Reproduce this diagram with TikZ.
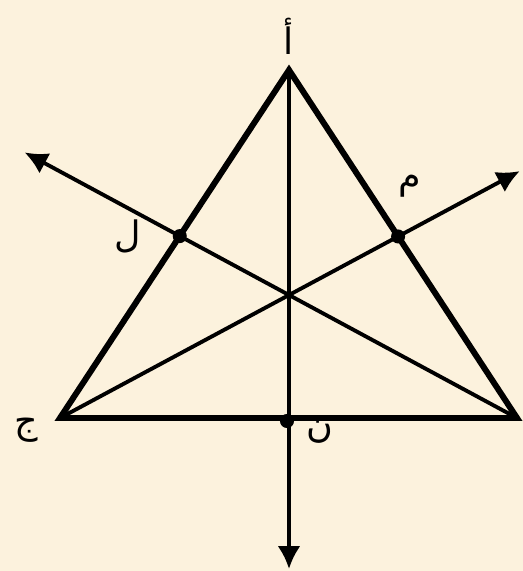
\documentclass[tikz,border=0pt]{standalone}
\usepackage{fontspec}
\usepackage{tikz}
\usetikzlibrary{arrows.meta, calc}
\newfontfamily\arabicfont[Script=Arabic]{DejaVu Sans}
\TeXXeTstate=1
\definecolor{paper}{HTML}{FCF2DD}

\begin{document}
\begin{tikzpicture}[x=0.02cm, y=-0.02cm,
    side/.style={line width=3.4pt, line join=miter},
    ray/.style={line width=2.2pt, -{Latex[length=13pt, width=13pt]}},
    pt/.style={circle, fill=black, inner sep=0pt, minimum size=8pt},
    lbl/.style={font=\arabicfont\huge}]
  \fill[paper] (0,0) rectangle (523,571);
  \useasboundingbox (0,0) rectangle (523,571);

  % vertices and meeting point
  \coordinate (A) at (289,70);
  \coordinate (C) at (60,418);
  \coordinate (B) at (517,418);
  \coordinate (O) at (289,295);
  \coordinate (N) at (287,421);
  \coordinate (L) at (intersection of B--O and A--C);
  \coordinate (M) at (intersection of C--O and A--B);
  \coordinate (tipL) at ($(B)!1.46!(L)$);
  \coordinate (tipM) at ($(C)!1.36!(M)$);
  \coordinate (tipN) at (289,569);

  % cevians
  \draw[ray] (B) -- (tipL);
  \draw[ray] (C) -- (tipM);
  \draw[ray] (A) -- (tipN);

  % triangle
  \draw[side] (A) -- (C) -- (B) -- cycle;

  \node[pt] (l) at (L) {};
  \node[pt] (m) at (M) {};
  \node[pt] (n) at (N) {};

  \node[lbl] (la) at (289,36) {\beginR أ\endR};
  \node[lbl] (ll) at (128,236) {\beginR ل\endR};
  \node[lbl] (lm) at (410,186) {\beginR م\endR};
  \node[lbl] (lc) at (26,430) {\beginR ج\endR};
  \node[lbl] (ln) at (320,432) {\beginR ن\endR};
\end{tikzpicture}
\end{document}
